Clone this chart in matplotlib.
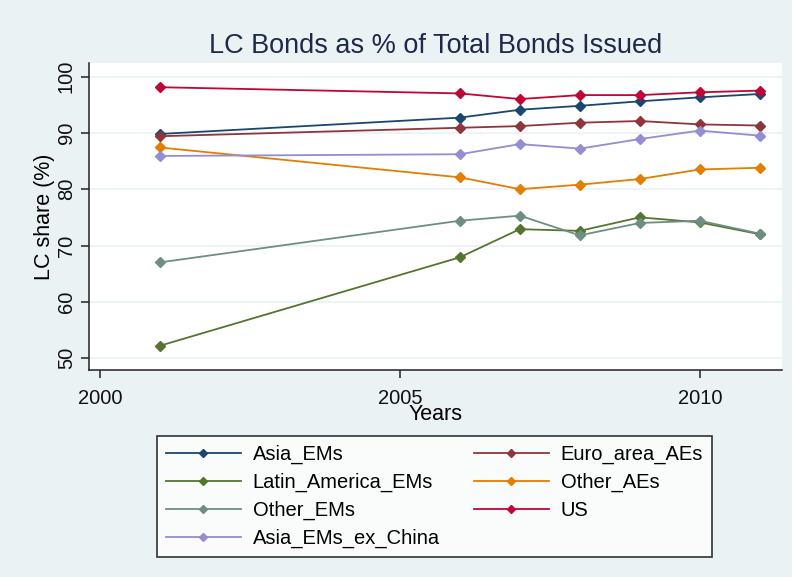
import matplotlib
matplotlib.use('Agg')
import matplotlib.pyplot as plt
import numpy as np

plt.rcParams['font.family'] = ['Liberation Sans', 'DejaVu Sans']

years = [2001, 2006, 2007, 2008, 2009, 2010, 2011]

asia_ems = [89.8, 92.7, 94.1, 94.8, 95.6, 96.3, 96.9]
euro_area_aes = [89.4, 90.9, 91.2, 91.8, 92.1, 91.5, 91.3]
latin_america_ems = [52.2, 67.9, 72.9, 72.6, 75.0, 74.1, 72.0]
other_aes = [87.4, 82.1, 80.0, 80.8, 81.8, 83.5, 83.8]
other_ems = [67.0, 74.4, 75.3, 71.8, 74.0, 74.4, 72.1]
us = [98.1, 97.0, 96.0, 96.7, 96.7, 97.2, 97.5]
asia_ems_ex_china = [85.9, 86.2, 88.0, 87.2, 88.9, 90.4, 89.5]

names = ['Asia_EMs', 'Euro_area_AEs', 'Latin_America_EMs', 'Other_AEs',
         'Other_EMs', 'US', 'Asia_EMs_ex_China']
series = [asia_ems, euro_area_aes, latin_america_ems, other_aes,
          other_ems, us, asia_ems_ex_china]
colors = ['#1A476F', '#90353B', '#55752F', '#E37E00',
          '#6E8E84', '#C10534', '#938DD2']

bg = '#EAF2F3'

fig = plt.figure(figsize=(7.92, 5.77), dpi=100, facecolor=bg)
ax = fig.add_axes([89/792, 1-370/577, (782-89)/792, (370-63)/577])
ax.set_facecolor('white')

lines = []
for name, vals, c in zip(names, series, colors):
    l, = ax.plot(years, vals, color=c, lw=1.3, marker='D', ms=5.5,
                 mec=c, mfc=c, label=name)
    lines.append(l)

ax.set_xlim(1999.82, 2011.37)
ax.set_ylim(47.9, 102.4)
ax.set_xticks([2000, 2005, 2010])
ax.set_yticks([50, 60, 70, 80, 90, 100])
ax.grid(axis='y', color=bg, lw=1.2)
ax.set_axisbelow(True)

for s in ['top', 'right']:
    ax.spines[s].set_visible(False)
for s in ['left', 'bottom']:
    ax.spines[s].set_color('#222222')
    ax.spines[s].set_linewidth(1.1)

ax.tick_params(axis='both', direction='out', length=5.5, width=1.1,
               color='#222222', labelsize=14.5, labelcolor='#111111')
ax.tick_params(axis='x', pad=8)
ax.tick_params(axis='y', pad=4)
plt.setp(ax.get_yticklabels(), rotation=90, va='center')

ax.set_title('LC Bonds as % of Total Bonds Issued', fontsize=19.5,
             color='#1e2a4a', pad=7.5)
ax.set_xlabel('Years', fontsize=15.5, labelpad=-3)
ax.set_ylabel('LC share (%)', fontsize=15.5, labelpad=1)

order = [0, 2, 4, 6, 1, 3, 5]
leg = fig.legend([lines[i] for i in order], [names[i] for i in order],
                 ncol=2, loc='upper left',
                 bbox_to_anchor=(157/792, 1-436/577),
                 fontsize=14.5, handlelength=3.7, markerscale=0.7,
                 frameon=True, fancybox=False, edgecolor='black',
                 borderaxespad=0, borderpad=0.45, labelspacing=0.43,
                 columnspacing=1.7, handletextpad=0.6)
leg.get_frame().set_linewidth(1.2)
leg.get_frame().set_facecolor('white')

fig.savefig('out.png', dpi=100, facecolor=bg)
